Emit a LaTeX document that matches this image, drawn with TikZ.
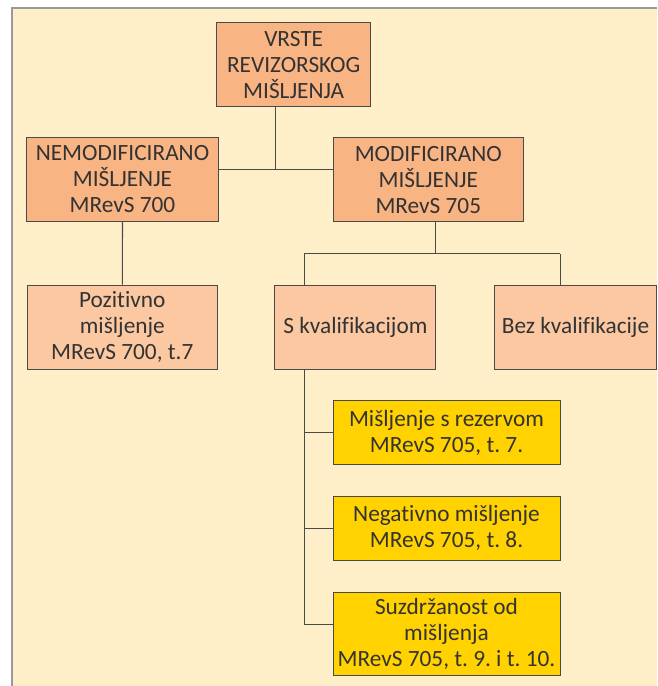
\documentclass[tikz,border=0pt]{standalone}
\usepackage{fontspec}
\setmainfont{Carlito}[Ligatures=NoCommon]
\frenchspacing
\definecolor{bgcream}{HTML}{FEEFC9}
\definecolor{framegray}{HTML}{9A9A9A}
\definecolor{boxdark}{HTML}{F9B483}
\definecolor{boxlight}{HTML}{FBC8A2}
\definecolor{boxyellow}{HTML}{FFD200}
\definecolor{linegray}{HTML}{4A4A4A}
\definecolor{txtgray}{HTML}{333333}
\tikzset{
  basebox/.style={draw=linegray, line width=0.9pt, rectangle, inner sep=0pt, align=center,
    text=txtgray, font=\frenchspacing\fontsize{23.3}{26}\selectfont},
  darkbox/.style={basebox, fill=boxdark},
  lightbox/.style={basebox, fill=boxlight},
  yellowbox/.style={basebox, fill=boxyellow},
  conn/.style={draw=linegray, line width=1.1pt}
}
\begin{document}
\begin{tikzpicture}[x=1pt,y=1pt]
\useasboundingbox (0,0) rectangle (657,-686);
\fill[bgcream] (12,-8) rectangle (657,-686);
\draw[framegray, line width=1.8pt] (12,-686) -- (12,-8) -- (657,-8);

\node[darkbox, minimum width=154pt, minimum height=84pt] (top) at (293.7,-64.7)
  {VRSTE\\REVIZORSKOG\\MIŠLJENJA};
\node[darkbox, minimum width=191.5pt, minimum height=84.4pt] (nemod) at (122.5,-179.5)
  {NEMODIFICIRANO\\MIŠLJENJE\\MRevS 700};
\node[darkbox, minimum width=190pt, minimum height=84pt] (mod) at (428.3,-179.7)
  {MODIFICIRANO\\MIŠLJENJE\\MRevS 705};
\node[lightbox, minimum width=190pt, minimum height=84pt] (poz) at (122.3,-327)
  {Pozitivno\\mišljenje\\MRevS 700, t.7};
\node[lightbox, minimum width=161pt, minimum height=84pt] (skval) at (355.4,-327)
  {S kvalifikacijom};
\node[lightbox, minimum width=162pt, minimum height=84pt] (bez) at (575.5,-327)
  {Bez kvalifikacije};
\node[yellowbox, minimum width=227pt, minimum height=63.6pt] (y1) at (446.5,-432.5)
  {Mišljenje s rezervom\\MRevS 705, t. 7.};
\node[yellowbox, minimum width=227pt, minimum height=64pt] (y2) at (446.5,-528.3)
  {Negativno mišljenje\\MRevS 705, t. 8.};
\node[yellowbox, minimum width=227pt, minimum height=83.4pt] (y3) at (446.5,-634)
  {Suzdržanost od\\mišljenja\\MRevS 705, t. 9. i t. 10.};

\coordinate (j1) at (275.3,-169.5);
\coordinate (j2) at (435.7,-253.5);
\coordinate (jl) at (304.4,-253.5);
\coordinate (jr) at (560.3,-253.5);
\coordinate (j3) at (304.4,-624.5);

\draw[conn] (top.south -| j1) -- (j1);
\draw[conn] (nemod.east |- j1) -- (mod.west |- j1);
\draw[conn] (nemod.south) -- (poz.north);
\draw[conn] (mod.south -| j2) -- (j2);
\draw[conn] (jl) -- (jr);
\draw[conn] (jl) -- (skval.north -| jl);
\draw[conn] (jr) -- (bez.north -| jr);
\draw[conn] (skval.south -| j3) -- (j3);
\draw[conn] (j3 |- y1.west) -- (y1.west);
\draw[conn] (j3 |- y2.west) -- (y2.west);
\draw[conn] (j3) -- (j3 -| y3.west);
\end{tikzpicture}
\end{document}
